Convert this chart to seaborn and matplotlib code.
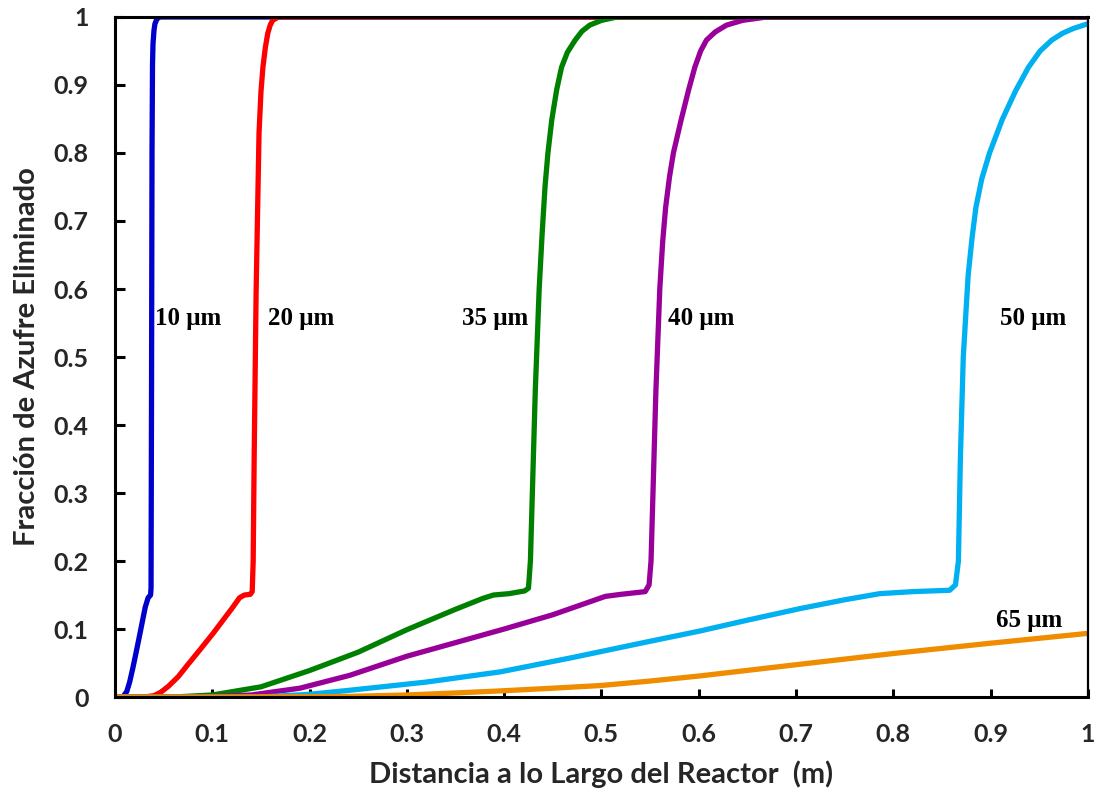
import matplotlib
matplotlib.use("Agg")
import matplotlib.pyplot as plt
import seaborn as sns
import pandas as pd

# Removed-sulfur fraction along the reactor, one curve per particle size
labels = ["10 μm", "20 μm", "35 μm", "40 μm", "50 μm", "65 μm"]
colors = ["#0000CC", "#FF0000", "#008000", "#990099", "#00B0F0", "#F08C00"]

x_10 = [0, 0.008, 0.012, 0.015, 0.0185, 0.022, 0.0257, 0.031, 0.034, 0.0365, 0.037,
        0.0375, 0.038, 0.0385, 0.039, 0.040, 0.041, 0.043, 0.046, 1.0]
y_10 = [0, 0, 0.008, 0.022, 0.044, 0.068, 0.094, 0.132, 0.146, 0.150, 0.160,
        0.45, 0.80, 0.93, 0.96, 0.98, 0.99, 0.997, 1.0, 1.0]

x_20 = [0, 0.030, 0.040, 0.047, 0.055, 0.065, 0.075, 0.087, 0.101, 0.111, 0.120,
        0.128, 0.133, 0.139, 0.141, 0.142, 0.143, 0.145, 0.148, 0.150, 0.152, 0.1545,
        0.157, 0.1595, 0.162, 0.168, 1.0]
y_20 = [0, 0, 0.002, 0.007, 0.016, 0.030, 0.048, 0.069, 0.094, 0.113, 0.130,
        0.146, 0.150, 0.151, 0.155, 0.20, 0.35, 0.594, 0.829, 0.890, 0.926, 0.955,
        0.976, 0.988, 0.995, 1.0, 1.0]

x_35 = [0, 0.06, 0.10, 0.15, 0.20, 0.25, 0.30, 0.35, 0.378, 0.389, 0.405, 0.421,
        0.425, 0.427, 0.429, 0.432, 0.436, 0.439, 0.442, 0.445, 0.449, 0.454, 0.459,
        0.465, 0.473, 0.480, 0.488, 0.500, 0.516, 1.0]
y_35 = [0, 0, 0.003, 0.015, 0.039, 0.066, 0.099, 0.129, 0.145, 0.150, 0.152, 0.156,
        0.16, 0.20, 0.30, 0.45, 0.60, 0.68, 0.75, 0.80, 0.849, 0.893, 0.926,
        0.948, 0.966, 0.979, 0.988, 0.995, 1.0, 1.0]

x_40 = [0, 0.09, 0.14, 0.19, 0.2415, 0.30, 0.35, 0.40, 0.45, 0.504, 0.52, 0.545,
        0.549, 0.551, 0.553, 0.556, 0.560, 0.563, 0.566, 0.570, 0.574, 0.582, 0.5895,
        0.596, 0.602, 0.608, 0.617, 0.6286, 0.645, 0.67, 1.0]
y_40 = [0, 0, 0.003, 0.013, 0.032, 0.060, 0.080, 0.100, 0.121, 0.148, 0.151, 0.155,
        0.165, 0.20, 0.30, 0.45, 0.60, 0.67, 0.72, 0.765, 0.80, 0.849, 0.892,
        0.926, 0.950, 0.966, 0.978, 0.988, 0.995, 1.0, 1.0]

x_50 = [0, 0.15, 0.20, 0.2415, 0.32, 0.396, 0.47, 0.55, 0.601, 0.65, 0.704, 0.75,
        0.786, 0.82, 0.858, 0.864, 0.867, 0.869, 0.872, 0.8745, 0.877, 0.881, 0.885,
        0.891, 0.899, 0.912, 0.926, 0.939, 0.951, 0.963, 0.974, 0.985, 1.0]
y_50 = [0, 0, 0.004, 0.010, 0.022, 0.037, 0.058, 0.082, 0.097, 0.113, 0.130, 0.143,
        0.152, 0.155, 0.157, 0.165, 0.20, 0.35, 0.50, 0.56, 0.62, 0.675, 0.72,
        0.762, 0.80, 0.849, 0.892, 0.926, 0.950, 0.966, 0.976, 0.983, 0.990]

x_65 = [0, 0.10, 0.20, 0.2415, 0.30, 0.35, 0.396, 0.45, 0.50, 0.55, 0.601, 0.70,
        0.80, 0.899, 1.0]
y_65 = [0, 0, 0.0005, 0.001, 0.003, 0.006, 0.009, 0.013, 0.017, 0.0235, 0.031, 0.0475,
        0.064, 0.079, 0.0936]

# Where each size label sits (left edge, vertical centre)
label_x = [0.041, 0.157, 0.357, 0.568, 0.910, 0.906]
label_y = [0.557, 0.557, 0.557, 0.557, 0.557, 0.112]

xs = [x_10, x_20, x_35, x_40, x_50, x_65]
ys = [y_10, y_20, y_35, y_40, y_50, y_65]
ticks = [round(0.1 * i, 1) for i in range(11)]
tick_labels = ["0"] + [f"{t:.1f}" for t in ticks[1:-1]] + ["1"]

sns.set_style("white")
plt.rcParams["font.family"] = ["Lato", "DejaVu Sans"]

fig = plt.figure(figsize=(11.01, 8.01), dpi=100)
ax = fig.add_axes([0.1045, 0.1298, 0.8835, 0.849])

frames = []
for lab, xv, yv in zip(labels, xs, ys):
    frames.append(pd.DataFrame({"x": xv, "y": yv, "size": lab}))
df = pd.concat(frames, ignore_index=True)

for lab, col in zip(labels, colors):
    sub = df[df["size"] == lab]
    sns.lineplot(data=sub, x="x", y="y", color=col, linewidth=3.8,
                 estimator=None, sort=False, ax=ax,
                 solid_joinstyle="round", solid_capstyle="butt")

for lab, lx, ly in zip(labels, label_x, label_y):
    ax.text(lx, ly, lab, ha="left", va="center", fontsize=18, fontweight="bold",
            family=["Liberation Serif", "DejaVu Serif"], color="black")

ax.set_xlim(0, 1)
ax.set_ylim(0, 1)
ax.set_xticks(ticks)
ax.set_yticks(ticks)
ax.set_xticklabels(tick_labels)
ax.set_yticklabels(tick_labels)
ax.tick_params(axis="both", direction="in", width=2.2, labelsize=18, color="black",
               bottom=True, left=True, top=False, right=False)
ax.tick_params(axis="x", length=6, pad=19)
ax.tick_params(axis="y", length=7, pad=19)
for t in ax.get_xticklabels() + ax.get_yticklabels():
    t.set_fontweight("bold")

for side in ["left", "bottom", "top", "right"]:
    ax.spines[side].set_visible(True)
    ax.spines[side].set_color("black")
    ax.spines[side].set_linewidth(2.2)
ax.spines["right"].set_linewidth(1.6)

ax.set_xlabel("Distancia a lo Largo del Reactor  (m)", fontsize=21, fontweight="bold",
              labelpad=10)
ax.set_ylabel("Fracción de Azufre Eliminado", fontsize=21, fontweight="bold",
              labelpad=10)

fig.savefig("out.png", dpi=100)
